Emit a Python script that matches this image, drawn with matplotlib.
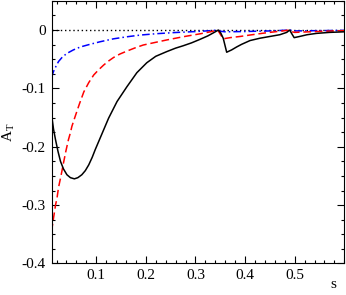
import numpy as np
import matplotlib
matplotlib.use('Agg')
import matplotlib.pyplot as plt
import matplotlib.ticker as ticker

plt.rcParams['font.family'] = ['Liberation Serif', 'DejaVu Serif']
plt.rcParams['mathtext.fontset'] = 'custom'
plt.rcParams['mathtext.rm'] = 'Liberation Serif'
plt.rcParams['mathtext.it'] = 'Liberation Serif'

# black solid curve
s_black = [0.010, 0.014, 0.018, 0.023, 0.028, 0.034, 0.041, 0.048, 0.056, 0.063,
           0.071, 0.078, 0.085, 0.092, 0.098, 0.105, 0.112, 0.125, 0.142, 0.162,
           0.182, 0.202, 0.220, 0.242, 0.260, 0.275, 0.292, 0.309, 0.325, 0.340,
           0.346, 0.351, 0.356, 0.363, 0.373, 0.383, 0.393, 0.410, 0.430, 0.450,
           0.470, 0.484, 0.490, 0.494, 0.499, 0.510, 0.525, 0.544, 0.570, 0.600]
a_black = [-0.145, -0.170, -0.188, -0.208, -0.225, -0.238, -0.248, -0.253, -0.255, -0.253,
           -0.248, -0.241, -0.231, -0.218, -0.205, -0.191, -0.177, -0.151, -0.1225, -0.097,
           -0.073, -0.056, -0.045, -0.037, -0.031, -0.027, -0.022, -0.016, -0.010, -0.003,
           0.0, -0.005, -0.014, -0.038, -0.034, -0.029, -0.0245, -0.018, -0.014, -0.011,
           -0.008, -0.004, 0.0, -0.006, -0.013, -0.011, -0.008, -0.0057, -0.004, -0.003]

# red dashed curve
s_red = [0.010, 0.014, 0.018, 0.021, 0.024, 0.029, 0.034, 0.039, 0.044, 0.048,
         0.051, 0.058, 0.066, 0.075, 0.085, 0.095, 0.105, 0.115, 0.125, 0.135,
         0.148, 0.162, 0.180, 0.195, 0.220, 0.242, 0.275, 0.309, 0.330, 0.345,
         0.350, 0.356, 0.370, 0.390, 0.410, 0.440, 0.470, 0.490, 0.495, 0.500,
         0.530, 0.560, 0.600]
a_red = [-0.345, -0.322, -0.300, -0.288, -0.270, -0.250, -0.228, -0.207, -0.188, -0.176,
         -0.165, -0.147, -0.127, -0.106, -0.090, -0.077, -0.068, -0.060, -0.053, -0.047,
         -0.041, -0.036, -0.030, -0.0256, -0.021, -0.017, -0.0115, -0.0065, -0.003, 0.0,
         -0.007, -0.015, -0.013, -0.011, -0.0085, -0.005, -0.002, 0.0, -0.003, -0.004,
         -0.003, -0.002, -0.001]

# blue dash-dot curve
s_blue = [0.010, 0.014, 0.019, 0.024, 0.032, 0.041, 0.054, 0.068, 0.085, 0.108,
          0.135, 0.162, 0.190, 0.222, 0.260, 0.300, 0.335, 0.343, 0.350, 0.360,
          0.400, 0.450, 0.490, 0.500, 0.550, 0.600]
a_blue = [-0.081, -0.071, -0.062, -0.054, -0.046, -0.040, -0.034, -0.029, -0.025, -0.020,
          -0.015, -0.0115, -0.0085, -0.0062, -0.0042, -0.0026, -0.0008, 0.0, -0.002, -0.003,
          -0.0025, -0.0015, 0.0, -0.0015, -0.001, -0.0005]

xticks = [0.1, 0.2, 0.3, 0.4, 0.5]
yticks = [-0.4, -0.3, -0.2, -0.1, 0.0]
ytick_labels = ['-0.4', '-0.3', '-0.2', '-0.1', '0']


def main():
    fig = plt.figure(figsize=(3.46, 2.95), dpi=100)
    ax = fig.add_axes([0.149, 0.107, 0.846, 0.89])

    ax.axhline(0.0, color='k', ls=(0, (1, 2)), lw=1.0)
    ax.plot(s_blue, a_blue, color='#0000ff', lw=1.1, ls=(0, (5, 2, 1, 2)))
    ax.plot(s_red, a_red, color='#ff0000', lw=1.1, ls=(0, (5, 2.5)))
    ax.plot(s_black, a_black, color='k', lw=1.1)

    ax.set_xlim(0.01, 0.6)
    ax.set_ylim(-0.4, 0.05)

    ax.set_xticks(xticks)
    ax.set_xticklabels([str(t) for t in xticks])
    ax.set_yticks(yticks)
    ax.set_yticklabels(ytick_labels)
    ax.xaxis.set_minor_locator(ticker.MultipleLocator(0.02))
    ax.yaxis.set_minor_locator(ticker.MultipleLocator(0.025))

    ax.tick_params(which='both', direction='in', top=True, right=True,
                   labelsize=11, width=0.8)
    ax.tick_params(which='major', length=5, pad=4)
    ax.tick_params(which='minor', length=2.5)
    for sp in ax.spines.values():
        sp.set_linewidth(0.8)

    fig.text(0.026, 0.55, r'A$_\mathrm{T}$', rotation=90, ha='center', va='center', fontsize=11)
    fig.text(0.962, 0.012, 's', ha='center', va='bottom', fontsize=11)

    fig.savefig('out.png', dpi=100)


if __name__ == "__main__":
    main()
